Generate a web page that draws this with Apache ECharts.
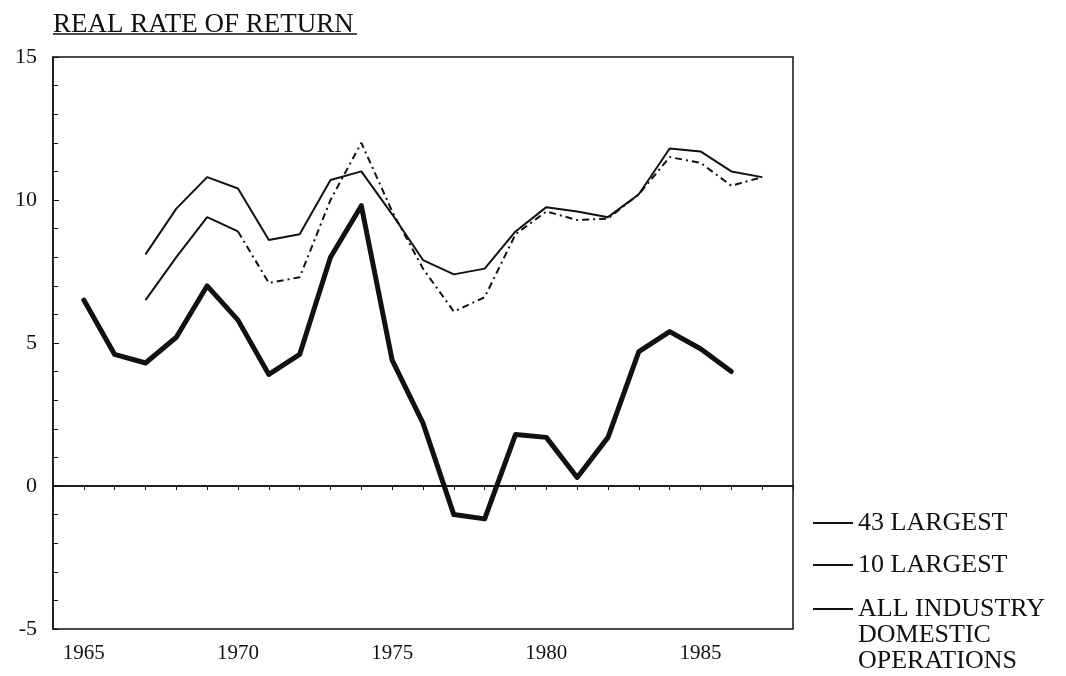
<!DOCTYPE html>
<html>
<head>
<meta charset="utf-8">
<script src="https://cdn.jsdelivr.net/npm/echarts@6/dist/echarts.min.js"></script>
<style>
html, body { margin: 0; background: #fff; }
#main { width: 1066px; height: 676px; }
</style>
</head>
<body>
<div id="main"></div>
<script>
// values (percent)
var yearsAll = [1965, 1966, 1967, 1968, 1969, 1970, 1971, 1972, 1973, 1974, 1975,
                1976, 1977, 1978, 1979, 1980, 1981, 1982, 1983, 1984, 1985, 1986];
var allIndustry = [6.5, 4.6, 4.3, 5.2, 7.0, 5.8, 3.9, 4.6, 8.0, 9.8, 4.4,
                   2.2, -1.0, -1.15, 1.8, 1.7, 0.3, 1.7, 4.7, 5.4, 4.8, 4.0];

var yearsLargest = [1967, 1968, 1969, 1970, 1971, 1972, 1973, 1974, 1975, 1976, 1977,
                    1978, 1979, 1980, 1981, 1982, 1983, 1984, 1985, 1986, 1987];
var largest43 = [8.1, 9.7, 10.8, 10.4, 8.6, 8.8, 10.7, 11.0, 9.5, 7.9, 7.4,
                 7.6, 8.9, 9.75, 9.6, 9.4, 10.2, 11.8, 11.7, 11.0, 10.8];
var largest10 = [6.5, 8.0, 9.4, 8.9, 7.1, 7.3, 10.0, 12.0, 9.6, 7.6, 6.1,
                 6.6, 8.8, 9.6, 9.3, 9.35, 10.2, 11.5, 11.3, 10.5, 10.8];

var yearLabels = [1965, 1970, 1975, 1980, 1985];

function pairs(xs, ys) {
    return xs.map(function (x, i) { return [x, ys[i]]; });
}

var font = 'Liberation Serif';
var ink = '#111';
var myChart = echarts.init(document.getElementById('main'));

var data10 = pairs(yearsLargest, largest10);

var legendBase = {
    orient: 'vertical',
    left: 813,
    height: 300,
    itemWidth: 40,
    itemHeight: 2,
    itemGap: 16,
    padding: 0,
    selectedMode: false,
    icon: 'path://M0,0L40,0L40,2L0,2Z',
    textStyle: { fontFamily: font, fontSize: 26, lineHeight: 26, color: ink }
};

var option = {
    backgroundColor: '#fff',
    animation: false,
    title: {
        text: 'REAL RATE OF RETURN',
        left: 48,
        top: 6,
        textStyle: { fontFamily: font, fontSize: 27, fontWeight: 'normal', color: ink }
    },
    graphic: [{
        type: 'line',
        shape: { x1: 53, y1: 34, x2: 357, y2: 34 },
        style: { stroke: ink, lineWidth: 1.5 }
    }],
    legend: [
        Object.assign({}, legendBase, {
            top: 510,
            data: ['43 LARGEST', '10 LARGEST']
        }),
        Object.assign({}, legendBase, {
            top: 544,
            // two empty lines keep the marker level with the first text line
            formatter: function () { return '\n\nALL INDUSTRY\nDOMESTIC\nOPERATIONS'; },
            data: ['ALL INDUSTRY']
        })
    ],
    grid: {
        left: 53, right: 273, top: 57, bottom: 47,
        show: true, borderColor: ink, borderWidth: 1.5
    },
    xAxis: {
        type: 'value',
        min: 1964,
        max: 1988,
        interval: 1,
        axisLine: { lineStyle: { color: ink, width: 1.5 } },
        axisTick: { length: 4, lineStyle: { color: ink } },
        splitLine: { show: false },
        axisLabel: {
            margin: 14,
            fontFamily: font,
            fontSize: 21,
            color: ink,
            formatter: function (v) {
                return yearLabels.indexOf(v) >= 0 ? String(v) : '';
            }
        }
    },
    yAxis: {
        type: 'value',
        min: -5,
        max: 15,
        interval: 5,
        axisLine: { show: true, lineStyle: { color: ink, width: 1.5 } },
        axisTick: { show: true, inside: true, length: 6, lineStyle: { color: ink } },
        minorTick: { show: true, splitNumber: 5, length: 5, lineStyle: { color: ink } },
        splitLine: { show: false },
        axisLabel: { margin: 16, fontFamily: font, fontSize: 22, color: ink }
    },
    series: [
        {
            name: '43 LARGEST',
            type: 'line',
            data: pairs(yearsLargest, largest43),
            symbol: 'none',
            itemStyle: { color: ink },
            lineStyle: { color: ink, width: 2 }
        },
        {
            name: '10 LARGEST',
            type: 'line',
            data: data10.slice(0, 4),
            symbol: 'none',
            itemStyle: { color: ink },
            lineStyle: { color: ink, width: 2 }
        },
        {
            name: '10 LARGEST',
            type: 'line',
            data: data10.slice(3),
            symbol: 'none',
            itemStyle: { color: ink },
            lineStyle: { color: ink, width: 2, type: [7, 4, 2, 4] }
        },
        {
            name: 'ALL INDUSTRY',
            type: 'line',
            data: pairs(yearsAll, allIndustry),
            symbol: 'none',
            itemStyle: { color: ink },
            lineStyle: { color: ink, width: 5, join: 'round', cap: 'round' },
            markLine: {
                silent: true,
                symbol: 'none',
                label: { show: false },
                lineStyle: { color: ink, width: 1.5, type: 'solid' },
                data: [{ yAxis: 0 }]
            }
        }
    ]
};

myChart.setOption(option);
</script>
</body>
</html>
